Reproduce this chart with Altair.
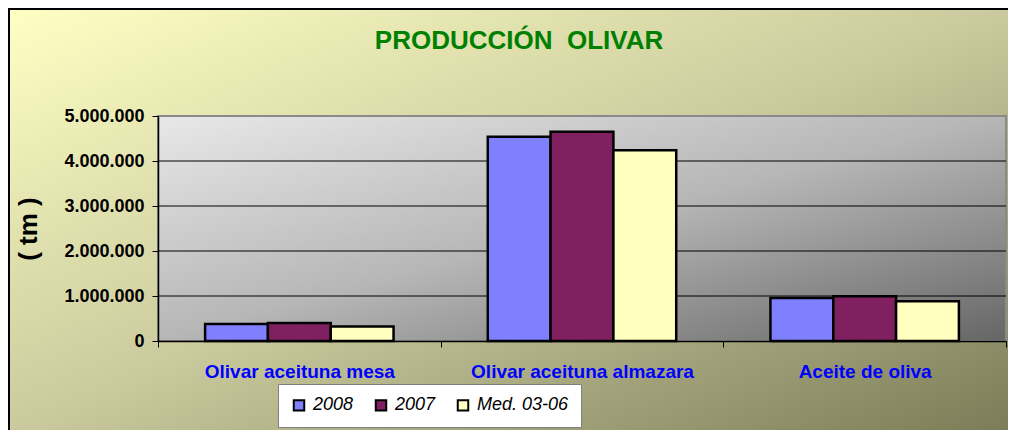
import altair as alt
import pandas as pd

FONT = "Liberation Sans, Arial, sans-serif"

categorias = ["Olivar aceituna mesa", "Olivar aceituna almazara", "Aceite de oliva"]
series = ["2008", "2007", "Med. 03-06"]
v2008 = [378000, 4540000, 955000]
v2007 = [400000, 4650000, 992000]
vmed = [325000, 4240000, 885000]
ticks_y = [0, 1000000, 2000000, 3000000, 4000000, 5000000]
grid_y = [1000000, 2000000, 3000000, 4000000]
colores = ["#8080FF", "#802060", "#FFFFC0"]
titulo = "PRODUCCIÓN\u00a0 OLIVAR"

rows = []
for s, vals in zip(series, [v2008, v2007, vmed]):
    for c, v in zip(categorias, vals):
        rows.append({"cat": c, "serie": s, "valor": v})
df = pd.DataFrame(rows)
df_grid = pd.DataFrame({"g": grid_y})
dummy = pd.DataFrame({"d": [0]})

W, H = 848, 225
PB = 89

outer_grad = alt.LinearGradient(
    gradient="linear", x1=0, y1=0, x2=1, y2=1,
    stops=[alt.GradientStop(color="#FFFFC4", offset=0),
           alt.GradientStop(color="#CACA9E", offset=0.5),
           alt.GradientStop(color="#7C7C58", offset=1)])
inner_grad = alt.LinearGradient(
    gradient="linear", x1=0, y1=0, x2=1, y2=1,
    stops=[alt.GradientStop(color="#E8E8E8", offset=0),
           alt.GradientStop(color="#B6B6B6", offset=0.5),
           alt.GradientStop(color="#666666", offset=1)])

outer_bg = alt.Chart(dummy).mark_rect(fill=outer_grad, strokeWidth=0).encode(
    x=alt.value(-150), x2=alt.value(W + 2), y=alt.value(-108), y2=alt.value(H + PB))
border_top = alt.Chart(dummy).mark_rule(color="black", strokeWidth=2).encode(
    x=alt.value(-150), x2=alt.value(W + 2), y=alt.value(-107))
border_left = alt.Chart(dummy).mark_rule(color="black", strokeWidth=2).encode(
    x=alt.value(-149), y=alt.value(-108), y2=alt.value(H + PB))
inner_bg = alt.Chart(dummy).mark_rect(fill=inner_grad, stroke="#8a8a8a", strokeWidth=2).encode(
    x=alt.value(0), x2=alt.value(W), y=alt.value(0), y2=alt.value(H))
title_mark = alt.Chart(dummy).mark_text(
    text=titulo, font=FONT, fontSize=26, fontWeight="bold", color="#008000",
    align="center", baseline="alphabetic").encode(x=alt.value(361), y=alt.value(-67))

yscale = alt.Scale(domain=[0, 5000000])


def y_axis():
    return alt.Axis(values=ticks_y, format=",d", grid=False, labelFont=FONT, labelFontSize=18,
                    labelFontWeight="bold", labelColor="black", labelPadding=8,
                    labelFlush=False, labelOverlap=False,
                    tickColor="black", tickSize=6, domainColor="black", domainWidth=1.5,
                    titleFont=FONT, titleFontSize=26, titleFontWeight="bold",
                    titleColor="black", titlePadding=22, zindex=1)


grid = alt.Chart(df_grid).mark_rule(color="black", strokeWidth=1).encode(
    y=alt.Y("g:Q", scale=yscale, title="( tm )", axis=y_axis()))

bars = alt.Chart(df).mark_bar(stroke="black", strokeWidth=2.5).encode(
    x=alt.X("cat:N", sort=categorias, title=None,
            scale=alt.Scale(paddingInner=0, paddingOuter=0),
            axis=alt.Axis(labelAngle=0, labelColor="#0000FF", labelFont=FONT, labelFontSize=19,
                          labelFontWeight="bold", labelPadding=15, tickBand="extent",
                          tickColor="black", tickSize=6, domainColor="black", domainWidth=1.5,
                          zindex=1, labelLimit=400)),
    xOffset=alt.XOffset("serie:N", sort=series, scale=alt.Scale(paddingInner=0, paddingOuter=0.75)),
    y=alt.Y("valor:Q", scale=yscale, title="( tm )", axis=y_axis()),
    color=alt.Color("serie:N", sort=series, scale=alt.Scale(domain=series, range=colores),
                    legend=alt.Legend(
                        title=None, orient="none", legendX=120, legendY=268, direction="horizontal",
                        fillColor="white", strokeColor="#808080", padding=12,
                        symbolType="square", symbolSize=110, symbolStrokeColor="black",
                        symbolStrokeWidth=2, symbolOpacity=1,
                        labelFont=FONT, labelFontSize=18, labelFontStyle="italic",
                        labelColor="black", labelOffset=5, columnPadding=17,
                        labelExpr="datum.label == 'Med. 03-06' ? '\u00a0\u00a0Med. 03-06' : datum.label")),
)

chart = alt.layer(outer_bg, border_top, border_left, inner_bg, title_mark, grid, bars).properties(
    width=W, height=H,
    autosize=alt.AutoSizeParams(type="none"),
    padding={"left": 150, "top": 108, "right": 2, "bottom": PB},
    background="white",
).configure_view(stroke="transparent").configure(
    locale={"number": {"decimal": ",", "thousands": ".", "grouping": [3], "currency": ["", " €"]}}
)

chart.save("out.html", embed_options={"renderer": "svg", "actions": False})
